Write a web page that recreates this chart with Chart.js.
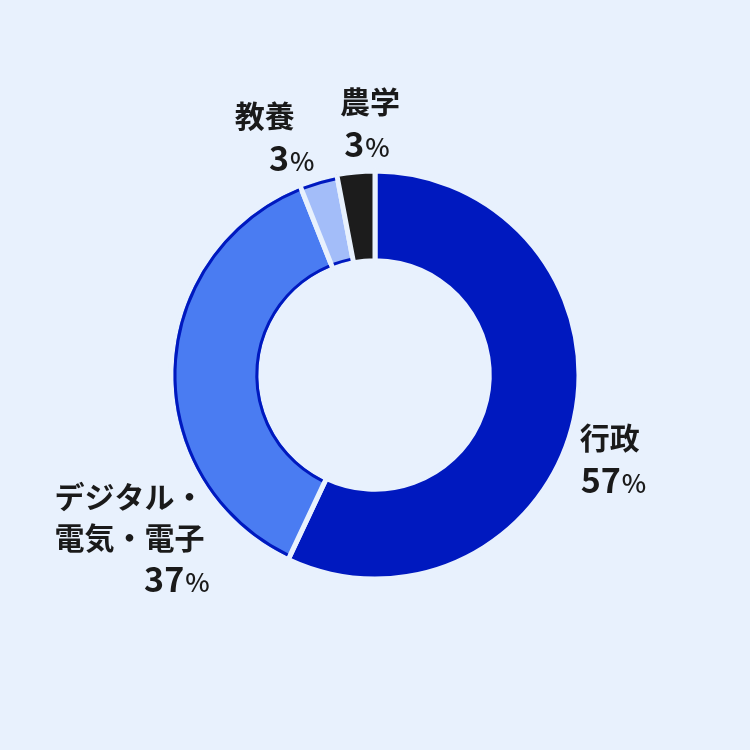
<!DOCTYPE html>
<html>
<head>
<meta charset="utf-8">
<script src="https://cdn.jsdelivr.net/npm/chart.js@4.4.0/dist/chart.umd.min.js"></script>
<style>
  html, body { margin: 0; padding: 0; background: #e8f1fd; }
  #chart { display: block; }
</style>
</head>
<body>
<canvas id="chart" width="750" height="750"></canvas>
<script>
// data
const categories = ['行政', 'デジタル・電気・電子', '教養', '農学'];
const shares = [57, 37, 3, 3];
const labelLines = [['行政'], ['デジタル・', '電気・電子'], ['教養'], ['農学']];

const bg = '#e8f1fd';
const sliceColors = ['#0019bf', '#4a7cf2', '#a3bdf9', '#1c1c1c'];
const outlined = [false, true, true, false];
const outlineColor = '#0019bf';

// where each label sits, relative to the outer mid point of its slice
// lines: [dx, dy] of each text line, pct: [dx, dy] of the percentage, align
const labelPlace = [
  { align: 'left', lines: [[8, 19]], pct: [9, 62] },
  { align: 'right', lines: [[31, 128], [31, 169]], pct: [36, 211] },
  { align: 'center', lines: [[-54, -66]], pct: [-27, -23] },
  { align: 'center', lines: [[14, -73]], pct: [11, -29] }
];

const FONT = '"Noto Sans CJK JP", "Noto Sans", sans-serif';

function drawPct(ctx, value, x, y, align) {
  ctx.save();
  ctx.textBaseline = 'alphabetic';
  ctx.textAlign = 'left';
  const numFont = 'bold 34px ' + FONT;
  const pFont = '500 26px ' + FONT;
  ctx.font = numFont;
  const w1 = ctx.measureText(String(value)).width;
  ctx.font = pFont;
  const w2 = ctx.measureText('%').width + 1;
  const total = w1 + w2;
  let left = x;
  if (align === 'center') left = x - total / 2;
  if (align === 'right') left = x - total;
  const base = y + 12;
  ctx.fillStyle = '#1a1a1a';
  ctx.font = numFont;
  ctx.fillText(String(value), left, base);
  ctx.font = pFont;
  ctx.fillText('%', left + w1 + 1, base);
  ctx.restore();
}

const ringExtras = {
  id: 'ringExtras',
  afterDatasetsDraw(chart) {
    const ctx = chart.ctx;
    const meta = chart.getDatasetMeta(0);
    meta.data.forEach((arc, i) => {
      const p = arc.getProps(['x', 'y', 'startAngle', 'endAngle', 'innerRadius', 'outerRadius'], true);
      // blue outline along the arcs of the lighter slices
      if (outlined[i]) {
        ctx.save();
        ctx.strokeStyle = outlineColor;
        ctx.lineWidth = 3;
        const ro = p.outerRadius - 4;
        const ri = p.innerRadius + 4;
        ctx.beginPath();
        ctx.arc(p.x, p.y, ro, p.startAngle + 2.5 / ro, p.endAngle - 2.5 / ro);
        ctx.stroke();
        ctx.beginPath();
        ctx.arc(p.x, p.y, ri, p.startAngle + 2.5 / ri, p.endAngle - 2.5 / ri);
        ctx.stroke();
        ctx.restore();
      }
      // labels
      const mid = (p.startAngle + p.endAngle) / 2;
      const R = p.outerRadius - 2.5;
      const ax = p.x + Math.cos(mid) * R;
      const ay = p.y + Math.sin(mid) * R;
      const place = labelPlace[i];
      ctx.save();
      ctx.fillStyle = '#1a1a1a';
      ctx.font = 'bold 30px ' + FONT;
      ctx.textAlign = place.align;
      ctx.textBaseline = 'middle';
      labelLines[i].forEach((line, j) => {
        ctx.fillText(line, ax + place.lines[j][0], ay + place.lines[j][1]);
      });
      ctx.restore();
      drawPct(ctx, shares[i], ax + place.pct[0], ay + place.pct[1], place.align);
    });
  }
};

new Chart(document.getElementById('chart'), {
  type: 'doughnut',
  data: {
    labels: categories,
    datasets: [{
      data: shares,
      backgroundColor: sliceColors,
      borderColor: bg,
      borderWidth: 5,
      borderAlign: 'center',
      radius: 204
    }]
  },
  options: {
    responsive: false,
    devicePixelRatio: 1,
    animation: false,
    cutout: '56%',
    layout: { padding: 0 },
    plugins: {
      legend: { display: false },
      tooltip: { enabled: false }
    }
  },
  plugins: [ringExtras]
});
</script>
</body>
</html>
